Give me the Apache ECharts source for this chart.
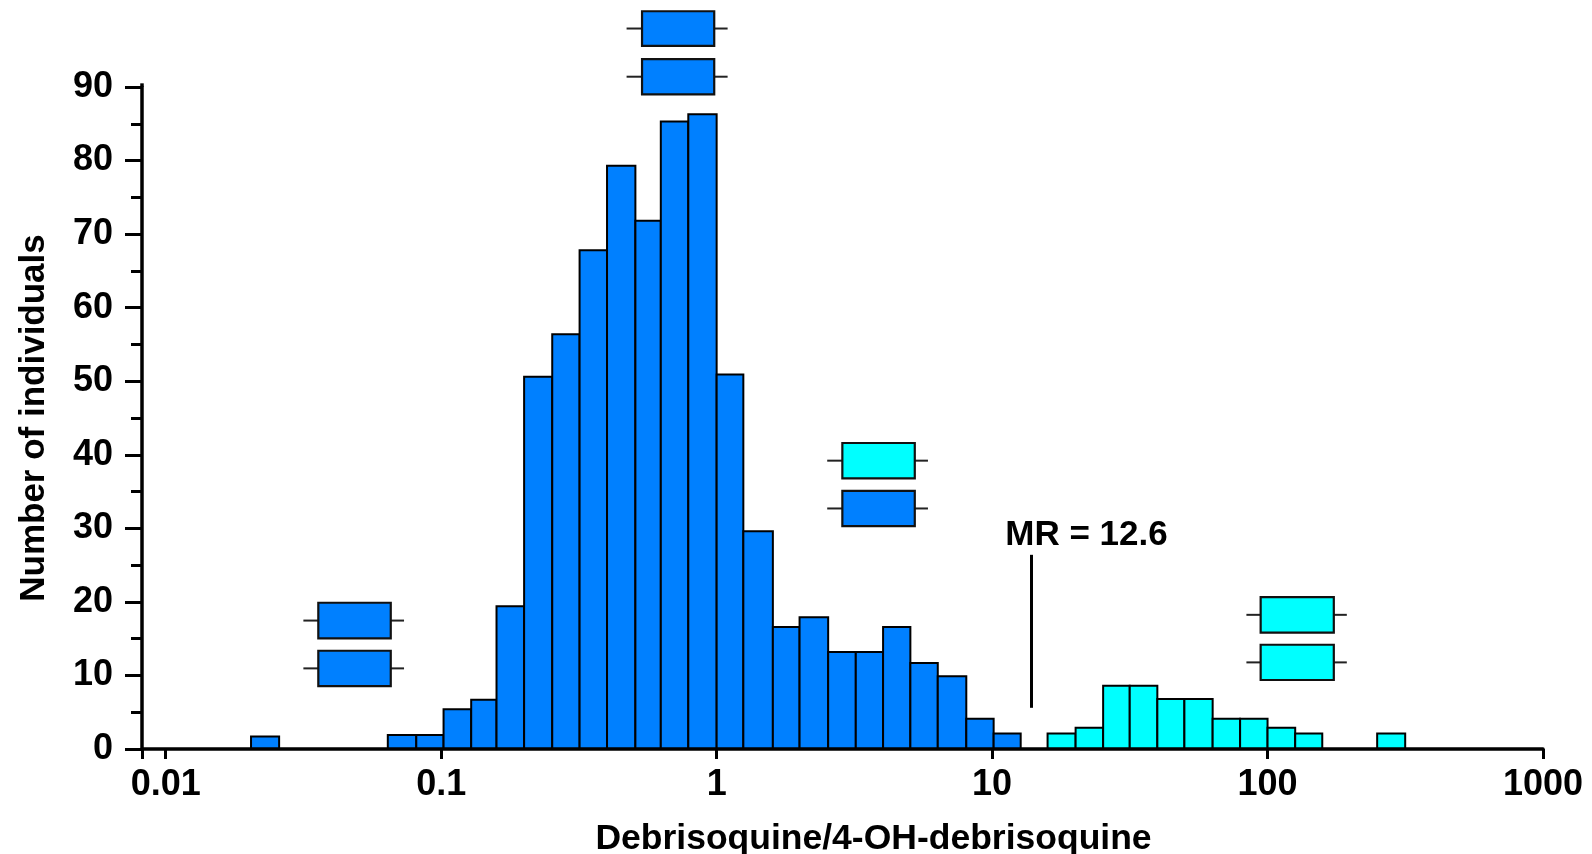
<!DOCTYPE html>
<html>
<head>
<meta charset="utf-8">
<style>html,body{margin:0;padding:0;background:#fff}#c{width:1592px;height:854px}</style>
<script src="https://cdn.jsdelivr.net/npm/echarts@6/dist/echarts.min.js"></script>
</head>
<body>
<div id="c"></div>
<script>
const xTickLabels = ['0.01','0.1','1','10','100','1000'];
const blueBinLow  = [0.0204,0.064,0.0812,0.102,0.1285,0.1588,0.2,0.253,0.318,0.4,0.507,0.627,0.789,1,1.25,1.6,2,2.54,3.2,4.02,5.05,6.35,8.06,10.13];
const blueBinHigh = [0.0258,0.0812,0.102,0.1285,0.1588,0.2,0.253,0.318,0.4,0.507,0.627,0.789,1,1.25,1.6,2,2.54,3.2,4.02,5.05,6.35,8.06,10.13,12.7];
const blueCounts  = [1.7,1.9,1.9,5.4,6.7,19.4,50.6,56.4,67.8,79.3,71.8,85.3,86.3,50.9,29.6,16.6,17.9,13.2,13.2,16.6,11.7,9.9,4.1,2.1];
const cyanBinLow  = [15.9,20.1,25.3,31.6,39.8,49.9,63.2,79.5,100,126,250];
const cyanBinHigh = [20.1,25.3,31.6,39.8,49.9,63.2,79.5,100,126,158,316];
const cyanCounts  = [2.1,2.9,8.6,8.6,6.8,6.8,4.1,4.1,2.9,2.1,2.1];
// box summaries: whisker low, box low, box high, whisker high
const boxWhiskerLow  = [0.0316,0.0316,0.471,0.471,2.52,2.52,83.8,83.8];
const boxLow         = [0.0358,0.0358,0.536,0.536,2.86,2.86,94.4,94.4];
const boxHigh        = [0.0656,0.0656,0.98,0.98,5.24,5.24,174,174];
const boxWhiskerHigh = [0.0733,0.0733,1.096,1.096,5.85,5.85,194,194];
const boxRowBottom   = [15.04,8.56,95.6,89,36.8,30.3,15.83,9.38];
const boxRowTop      = [19.88,13.36,100.3,93.8,41.6,35.1,20.65,14.17];
const boxType        = ['blue','blue','blue','blue','cyan','blue','cyan','cyan'];
const mrLabel = 'MR = 12.6';
const mrLine = [13.9, 5.6, 26.4];
const axisMinX = 0.0082;

const BLUE = '#0080ff', CYAN = '#00ffff';
const rows = (low, high, counts) => low.map((v, i) => [v, high[i], 0, counts[i]]);

function barRender(color) {
  return function (params, api) {
    const a = api.coord([api.value(0), api.value(3)]);
    const b = api.coord([api.value(1), api.value(2)]);
    return {
      type: 'rect',
      shape: { x: a[0], y: a[1], width: b[0] - a[0], height: b[1] - a[1] },
      style: { fill: color, stroke: '#000', lineWidth: 2 }
    };
  };
}

const boxRows = boxLow.map((v, i) => [boxWhiskerLow[i], v, boxHigh[i], boxWhiskerHigh[i], boxRowBottom[i], boxRowTop[i], boxType[i] === 'cyan' ? 1 : 0]);

const chart = echarts.init(document.getElementById('c'));
const font = '"Liberation Sans", Arial, sans-serif';
chart.setOption({
  animation: false,
  backgroundColor: '#fff',
  grid: { left: 142, right: 49, top: 87, bottom: 105, containLabel: false, outerBoundsMode: 'none' },
  xAxis: {
    type: 'log', logBase: 10, min: axisMinX, max: 1000, z: 5,
    name: 'Debrisoquine/4-OH-debrisoquine',
    nameLocation: 'middle', nameGap: 72,
    nameTextStyle: { fontFamily: font, fontWeight: 'bold', fontSize: 35.5, color: '#000', padding: [0, 0, 0, 62] },
    axisLine: { show: true, onZero: false, lineStyle: { color: '#000', width: 3.5 } },
    axisTick: { show: true, length: 10, lineStyle: { color: '#000', width: 3 } },
    axisLabel: {
      color: '#000', fontFamily: font, fontWeight: 'bold', fontSize: 36, margin: 18, hideOverlap: false,
      showMinLabel: true, showMaxLabel: true,
      formatter: v => {
        const i = Math.round(Math.log10(v)) + 2;
        return Math.abs(Math.log10(v) + 2 - i) < 1e-6 ? xTickLabels[i] : '';
      }
    },
    splitLine: { show: false }, minorTick: { show: false }
  },
  yAxis: {
    type: 'value', min: 0, max: 90, interval: 10,
    name: 'Number of individuals',
    nameLocation: 'middle', nameGap: 90, nameRotate: 90,
    nameTextStyle: { fontFamily: font, fontWeight: 'bold', fontSize: 35, color: '#000' },
    axisLine: { show: true, lineStyle: { color: '#000', width: 3.5 } },
    axisTick: { show: true, length: 17, lineStyle: { color: '#000', width: 3 } },
    minorTick: { show: true, splitNumber: 2, length: 11, lineStyle: { color: '#000', width: 3 } },
    axisLabel: { color: '#000', fontFamily: font, fontWeight: 'bold', fontSize: 36, margin: 29, padding: [6, 0, 0, 0] },
    splitLine: { show: false }, minorSplitLine: { show: false }
  },
  series: [
    { type: 'custom', name: 'Blue', clip: false, z: 3, coordinateSystem: 'cartesian2d',
      encode: { x: [0, 1], y: [2, 3] }, data: rows(blueBinLow, blueBinHigh, blueCounts), renderItem: barRender(BLUE) },
    { type: 'custom', name: 'Cyan', clip: false, z: 3, coordinateSystem: 'cartesian2d',
      encode: { x: [0, 1], y: [2, 3] }, data: rows(cyanBinLow, cyanBinHigh, cyanCounts), renderItem: barRender(CYAN) },
    { type: 'custom', name: 'Boxes', clip: false, z: 4, coordinateSystem: 'cartesian2d',
      encode: { x: [0, 1, 2, 3], y: [4, 5] }, data: boxRows,
      renderItem: function (params, api) {
        const wl = api.coord([api.value(0), api.value(4)])[0];
        const bl = api.coord([api.value(1), api.value(4)]);
        const br = api.coord([api.value(2), api.value(5)]);
        const wh = api.coord([api.value(3), api.value(4)])[0];
        const midY = (bl[1] + br[1]) / 2;
        const fill = api.value(6) ? CYAN : BLUE;
        const ln = { stroke: '#222', lineWidth: 2 };
        return { type: 'group', children: [
          { type: 'line', shape: { x1: wl, y1: midY, x2: bl[0], y2: midY }, style: ln },
          { type: 'line', shape: { x1: br[0], y1: midY, x2: wh, y2: midY }, style: ln },
          { type: 'rect', shape: { x: bl[0], y: br[1], width: br[0] - bl[0], height: bl[1] - br[1] },
            style: { fill: fill, stroke: '#111', lineWidth: 2.2 } }
        ] };
      } },
    { type: 'custom', name: 'MR', clip: false, z: 4, coordinateSystem: 'cartesian2d',
      encode: { x: 0, y: [1, 2] }, data: [mrLine],
      renderItem: function (params, api) {
        const a = api.coord([api.value(0), api.value(1)]);
        const b = api.coord([api.value(0), api.value(2)]);
        return { type: 'group', children: [
          { type: 'line', shape: { x1: a[0], y1: a[1], x2: b[0], y2: b[1] }, style: { stroke: '#000', lineWidth: 3 } },
          { type: 'text', x: b[0] + 55, y: b[1] - 19,
            style: { text: mrLabel, fill: '#000', font: 'bold 35px ' + font, textAlign: 'center', textVerticalAlign: 'middle' } }
        ] };
      } },
    { type: 'custom', name: 'AxisTop', clip: false, z: 2, coordinateSystem: 'cartesian2d',
      encode: { x: 0, y: [1, 2] }, data: [[axisMinX, 90, 90.5]],
      renderItem: function (params, api) {
        const a = api.coord([api.value(0), api.value(1)]);
        const b = api.coord([api.value(0), api.value(2)]);
        return { type: 'line', shape: { x1: a[0], y1: a[1], x2: b[0], y2: b[1] }, style: { stroke: '#000', lineWidth: 3.5 } };
      } }
  ]
});
</script>
</body>
</html>
